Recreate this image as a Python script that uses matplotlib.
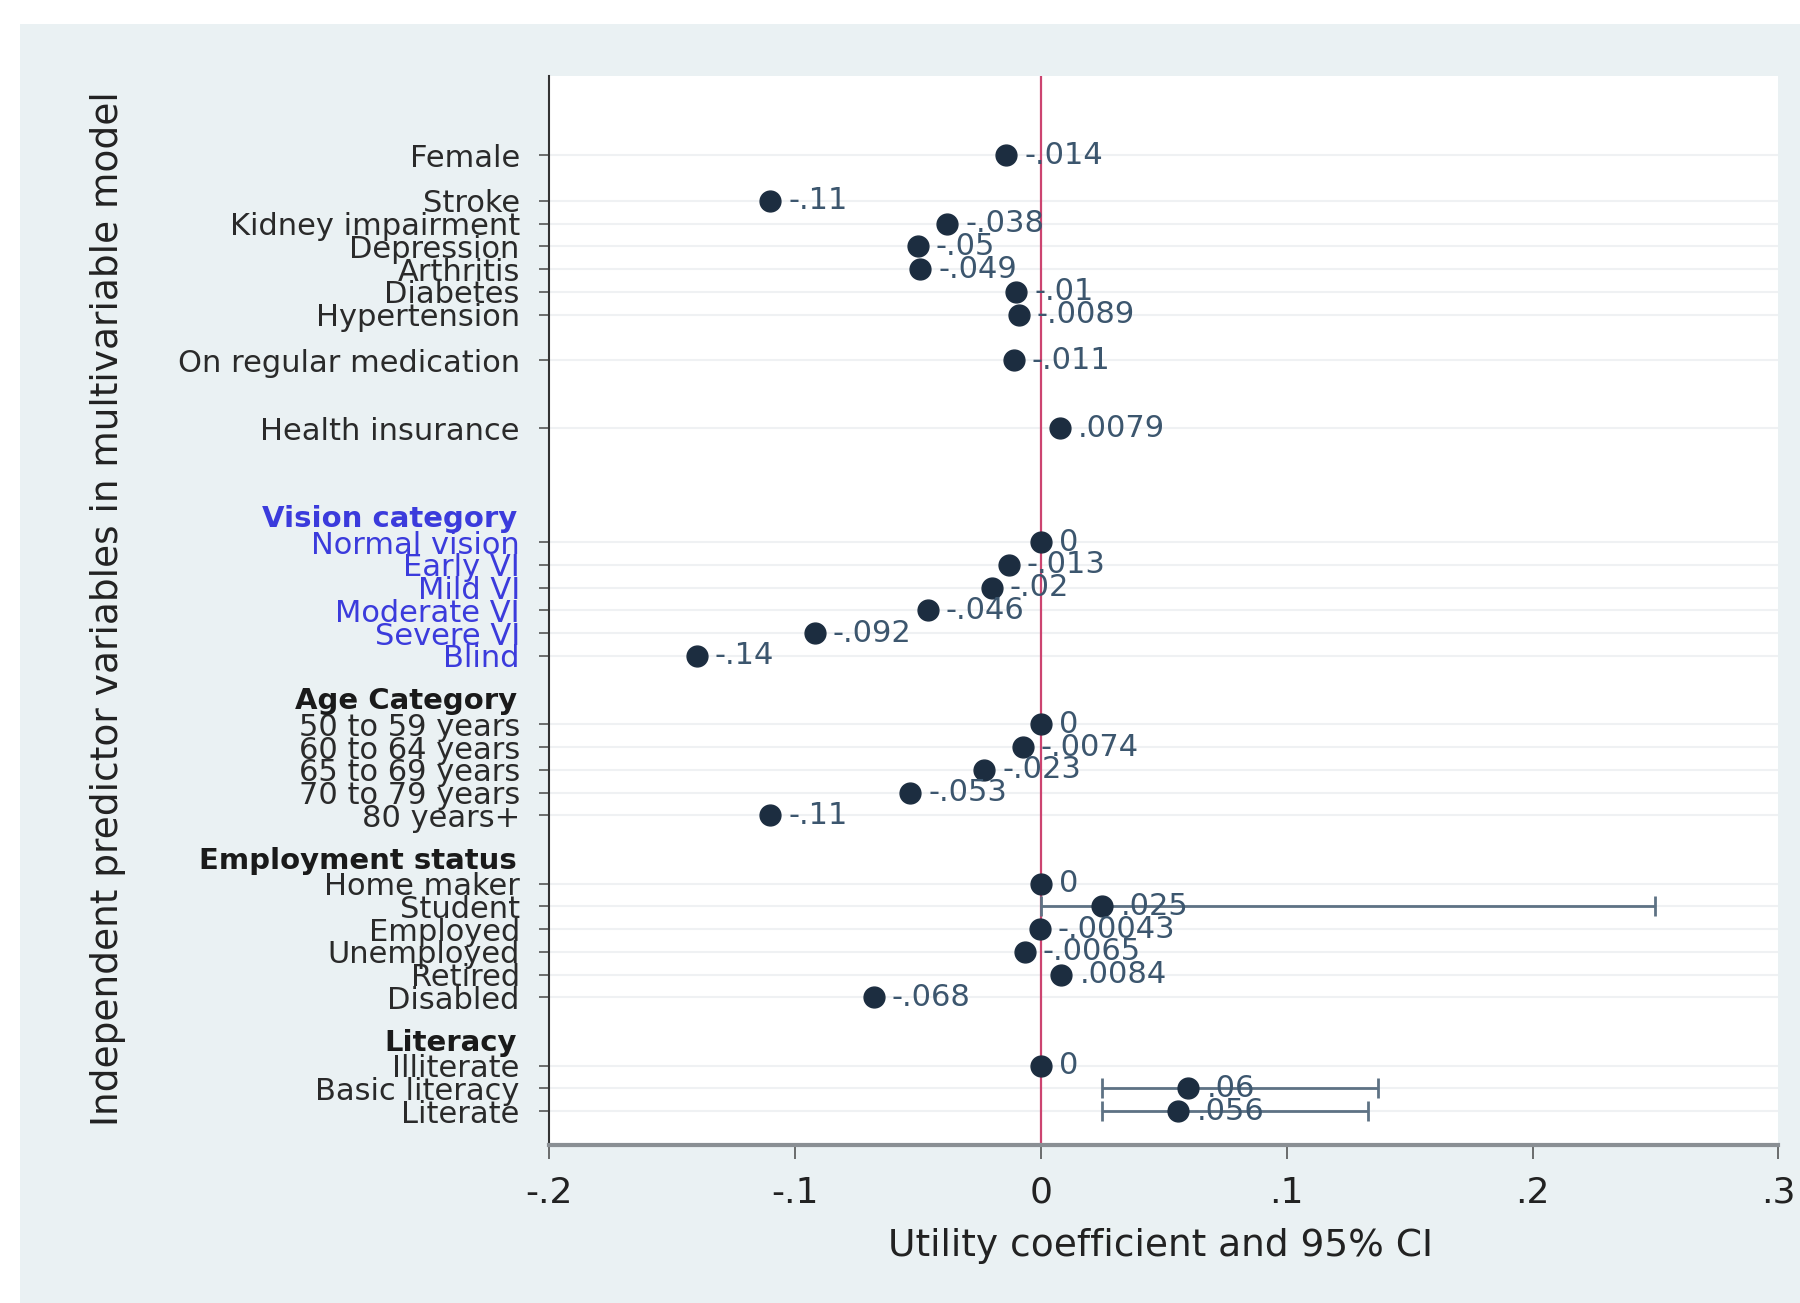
import numpy as np
import matplotlib
matplotlib.use('Agg')
import matplotlib.pyplot as plt
from matplotlib.patches import Rectangle
from matplotlib.transforms import blended_transform_factory

# rows of the model (label, coefficient), grouped as in the paper figure
labels = ['Female', 'Stroke', 'Kidney impairment', 'Depression', 'Arthritis',
          'Diabetes', 'Hypertension', 'On regular medication', 'Health insurance',
          'Normal vision', 'Early VI', 'Mild VI', 'Moderate VI', 'Severe VI', 'Blind',
          '50 to 59 years', '60 to 64 years', '65 to 69 years', '70 to 79 years', '80 years+',
          'Home maker', 'Student', 'Employed', 'Unemployed', 'Retired', 'Disabled',
          'Illiterate', 'Basic literacy', 'Literate']
coef = [-0.014, -0.11, -0.038, -0.05, -0.049,
        -0.01, -0.0089, -0.011, 0.0079,
        0, -0.013, -0.02, -0.046, -0.092, -0.14,
        0, -0.0074, -0.023, -0.053, -0.11,
        0, 0.025, -0.00043, -0.0065, 0.0084, -0.068,
        0, 0.06, 0.056]
# only the wide intervals are visible in the figure
ci_lo = [np.nan] * 21 + [0.0] + [np.nan] * 5 + [0.025, 0.025]
ci_hi = [np.nan] * 21 + [0.25] + [np.nan] * 5 + [0.137, 0.133]
blue_rows = ['Normal vision', 'Early VI', 'Mild VI', 'Moderate VI', 'Severe VI', 'Blind']

headers = ['Vision category', 'Age Category', 'Employment status', 'Literacy']

# row slots on the y axis (gaps between groups)
rows = [0, 2, 3, 4, 5, 6, 7, 9, 12,
        17, 18, 19, 20, 21, 22,
        25, 26, 27, 28, 29,
        32, 33, 34, 35, 36, 37,
        40, 41, 42]
header_rows = [16, 24, 31, 39]

xticks = [-0.2, -0.1, 0, 0.1, 0.2, 0.3]
xticklabels = ['-.2', '-.1', '0', '.1', '.2', '.3']

bg = '#eaf1f3'
navy = '#1c2d40'
lab_col = '#3c566e'

fig = plt.figure(figsize=(18, 13.03), dpi=100)
fig.patches.append(Rectangle((20 / 1800, 0), 1, 1 - 24 / 1303, transform=fig.transFigure,
                             facecolor=bg, edgecolor='none', zorder=-10))

ax = fig.add_axes([0.305, 0.121, 0.683, 0.821])
ax.set_facecolor('white')

for r in rows:
    ax.axhline(r, color='#eff1f3', lw=1.5, zorder=0)

ax.axvline(0, color='#cc4470', lw=1.6, zorder=1)

lo = np.array(ci_lo)
hi = np.array(ci_hi)
c = np.array(coef)
y = np.array(rows)
m = ~np.isnan(lo)
ax.errorbar(c[m], y[m], xerr=[c[m] - lo[m], hi[m] - c[m]], fmt='none',
            ecolor='#5e7284', elinewidth=2, capsize=7, capthick=2, zorder=2)
ax.plot(coef, rows, 'o', color=navy, markersize=15, zorder=3)

for v, r in zip(coef, rows):
    s = ('%g' % v).replace('0.', '.')
    ax.annotate(s, (v, r), xytext=(13, 0), textcoords='offset points',
                va='center', ha='left', fontsize=22, color=lab_col, zorder=4)

ax.set_xlim(-0.2, 0.3)
ax.set_ylim(43.5, -3.5)
ax.set_xticks(xticks)
ax.set_xticklabels(xticklabels, fontsize=26, color='#222222')
ax.set_yticks(rows)
ax.set_yticklabels(labels, fontsize=22, color='#2a2a2a')
for t in ax.get_yticklabels():
    if t.get_text() in blue_rows:
        t.set_color('#3b3bdc')

tr = blended_transform_factory(ax.transAxes, ax.transData)
for h, r in zip(headers, header_rows):
    ax.text(-0.026, r, h, transform=tr, ha='right', va='center', fontsize=21,
            fontweight='bold', color='#3b3bdc' if h == 'Vision category' else '#1a1a1a')

ax.tick_params(axis='y', length=7, width=1.2, color='#555555', pad=14)
ax.tick_params(axis='x', length=10, width=1.2, color='#555555', pad=12)

for s in ['top', 'right']:
    ax.spines[s].set_visible(False)
ax.spines['left'].set_color('#333333')
ax.spines['left'].set_linewidth(1.5)
ax.spines['bottom'].set_color('#8a8f94')
ax.spines['bottom'].set_linewidth(3)

fig.text(0.645, 0.044, 'Utility coefficient and 95% CI', ha='center', va='center',
         fontsize=27, color='#222222')
fig.text(0.06, 0.533, 'Independent predictor variables in multivariable model',
         rotation=90, ha='center', va='center', fontsize=27, color='#222222')

fig.savefig('out.png', dpi=100, facecolor='white')
